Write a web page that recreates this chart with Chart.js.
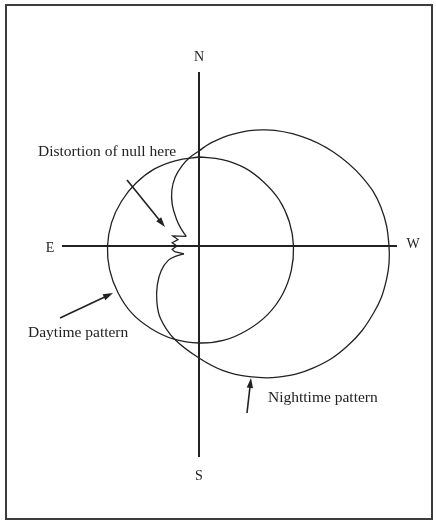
<!DOCTYPE html>
<html>
<head>
<meta charset="utf-8">
<title>Daytime and nighttime pattern</title>
<script src="https://cdn.jsdelivr.net/npm/chart.js@4/dist/chart.umd.min.js"></script>
<style>
html, body { margin: 0; padding: 0; background: #fff; }
.chartBox { position: relative; width: 436px; height: 521px; }
</style>
</head>
<body>
<div class="chartBox"><canvas id="patternChart"></canvas></div>
<script>
'use strict'

// compass bearing in degrees (N=0, E=90, S=180, W=270) and relative field strength
const dayBearings = [0, 15, 30, 45, 60, 75, 90, 105, 120, 135, 150, 165, 180, 195, 210, 225, 240, 255, 270, 285, 300, 315, 330, 345, 360];
const dayStrength = [89, 88.5, 89, 89, 89.5, 90.5, 91.5, 92.5, 93.5, 95, 95.5, 96.5, 97, 97.5, 97, 97, 96.5, 95.5, 94.5, 93.5, 92.5, 91, 90.5, 89.5, 89];

// nighttime pattern, from the lower cusp round by S, W and N to the upper cusp
const nightBearings = [118, 114, 115, 123, 133, 143, 152, 165, 180, 191, 201, 211, 223, 236, 249, 260, 270, 282, 293, 305, 317, 330, 343, 354, 0, 6, 12, 19, 26, 33, 40, 46, 53];
const nightStrength = [17, 25, 34, 45, 57, 70, 82, 96, 112, 127, 140, 153, 167, 179, 187, 190.5, 190, 186, 177, 164, 150, 134, 117, 103, 95, 89, 82, 73, 62, 49, 35, 25, 16];

// the distorted null towards the east
const notchBearings = [53, 69, 73, 83, 90, 97, 103, 118];
const notchStrength = [16, 28, 22, 27, 22, 27, 25, 17];

const compassLabels = ['N', 'S', 'E', 'W'];
const noteTexts = ['Distortion of null here', 'Daytime pattern', 'Nighttime pattern'];

//==================================================================================================

// how far each arm of the cross reaches
const axisReach = { north: 174, south: 211, east: 137, west: 198 };
// where the compass letters sit
const compassSpots = [[0, 185], [0, -234], [-149, -6], [214, -2]];
// where the notes start, and their arrows (tail, tip)
const noteSpots = [[-161, 90], [-171, -91], [69, -156]];
const noteArrows = [
	[[-72, 66], [-34, 19]],
	[[-139, -72], [-86, -47]],
	[[48, -167], [52, -132]]
];
const inkColor = '#222';

function toPoints(bearings, strength){
	return bearings.map((b, i) => {
		const a = b * Math.PI / 180;
		return { x: -strength[i] * Math.sin(a), y: strength[i] * Math.cos(a) };
	});
}

function drawArrow(ctx, x1, y1, x2, y2){
	const ang = Math.atan2(y2 - y1, x2 - x1);
	const len = 10, half = 3.2;
	ctx.beginPath();
	ctx.moveTo(x1, y1);
	ctx.lineTo(x2 - Math.cos(ang) * (len - 2), y2 - Math.sin(ang) * (len - 2));
	ctx.lineWidth = 1.6;
	ctx.stroke();
	ctx.beginPath();
	ctx.moveTo(x2, y2);
	ctx.lineTo(x2 - Math.cos(ang) * len - Math.sin(ang) * half, y2 - Math.sin(ang) * len + Math.cos(ang) * half);
	ctx.lineTo(x2 - Math.cos(ang) * len + Math.sin(ang) * half, y2 - Math.sin(ang) * len - Math.cos(ang) * half);
	ctx.closePath();
	ctx.fill();
}

const compassPlugin = {
	id: 'compassPlugin',
	beforeDatasetsDraw(chart){
		const ctx = chart.ctx;
		const sx = chart.scales.x, sy = chart.scales.y;
		ctx.save();
		ctx.strokeStyle = inkColor;
		ctx.lineWidth = 2;
		ctx.beginPath();
		ctx.moveTo(sx.getPixelForValue(0), sy.getPixelForValue(axisReach.north));
		ctx.lineTo(sx.getPixelForValue(0), sy.getPixelForValue(-axisReach.south));
		ctx.moveTo(sx.getPixelForValue(-axisReach.east), sy.getPixelForValue(0));
		ctx.lineTo(sx.getPixelForValue(axisReach.west), sy.getPixelForValue(0));
		ctx.stroke();
		ctx.restore();
	},
	afterDraw(chart){
		const ctx = chart.ctx;
		const sx = chart.scales.x, sy = chart.scales.y;
		ctx.save();
		// frame round the figure
		ctx.strokeStyle = '#3c3c3c';
		ctx.lineWidth = 2;
		ctx.strokeRect(6, 5, 426, 514);

		ctx.fillStyle = inkColor;
		ctx.strokeStyle = inkColor;
		ctx.textBaseline = 'alphabetic';
		ctx.font = '14px "Liberation Serif"';
		ctx.textAlign = 'center';
		compassLabels.forEach((t, i) => {
			ctx.fillText(t, sx.getPixelForValue(compassSpots[i][0]), sy.getPixelForValue(compassSpots[i][1]));
		});

		ctx.font = '15.5px "Liberation Serif"';
		ctx.textAlign = 'left';
		noteTexts.forEach((t, i) => {
			ctx.fillText(t, sx.getPixelForValue(noteSpots[i][0]), sy.getPixelForValue(noteSpots[i][1]));
		});
		noteArrows.forEach((a) => {
			drawArrow(ctx,
				sx.getPixelForValue(a[0][0]), sy.getPixelForValue(a[0][1]),
				sx.getPixelForValue(a[1][0]), sy.getPixelForValue(a[1][1]));
		});
		ctx.restore();
	}
};

const lineStyle = {
	showLine: true,
	pointRadius: 0,
	borderColor: inkColor,
	borderWidth: 1.3,
	fill: false
};

new Chart(document.getElementById('patternChart'), {
	type: 'scatter',
	data: {
		datasets: [
			Object.assign({ label: 'Daytime pattern', data: toPoints(dayBearings, dayStrength), tension: 0.4 }, lineStyle),
			Object.assign({ label: 'Nighttime pattern', data: toPoints(nightBearings, nightStrength), tension: 0.4 }, lineStyle),
			Object.assign({ label: 'Distortion of null', data: toPoints(notchBearings, notchStrength), tension: 0 }, lineStyle)
		]
	},
	options: {
		responsive: true,
		maintainAspectRatio: false,
		animation: false,
		layout: { padding: 0 },
		plugins: {
			legend: { display: false },
			tooltip: { enabled: false }
		},
		scales: {
			x: { type: 'linear', display: false, min: -199, max: 237 },
			y: { type: 'linear', display: false, min: -275, max: 246 }
		}
	},
	plugins: [compassPlugin]
});
</script>
</body>
</html>
